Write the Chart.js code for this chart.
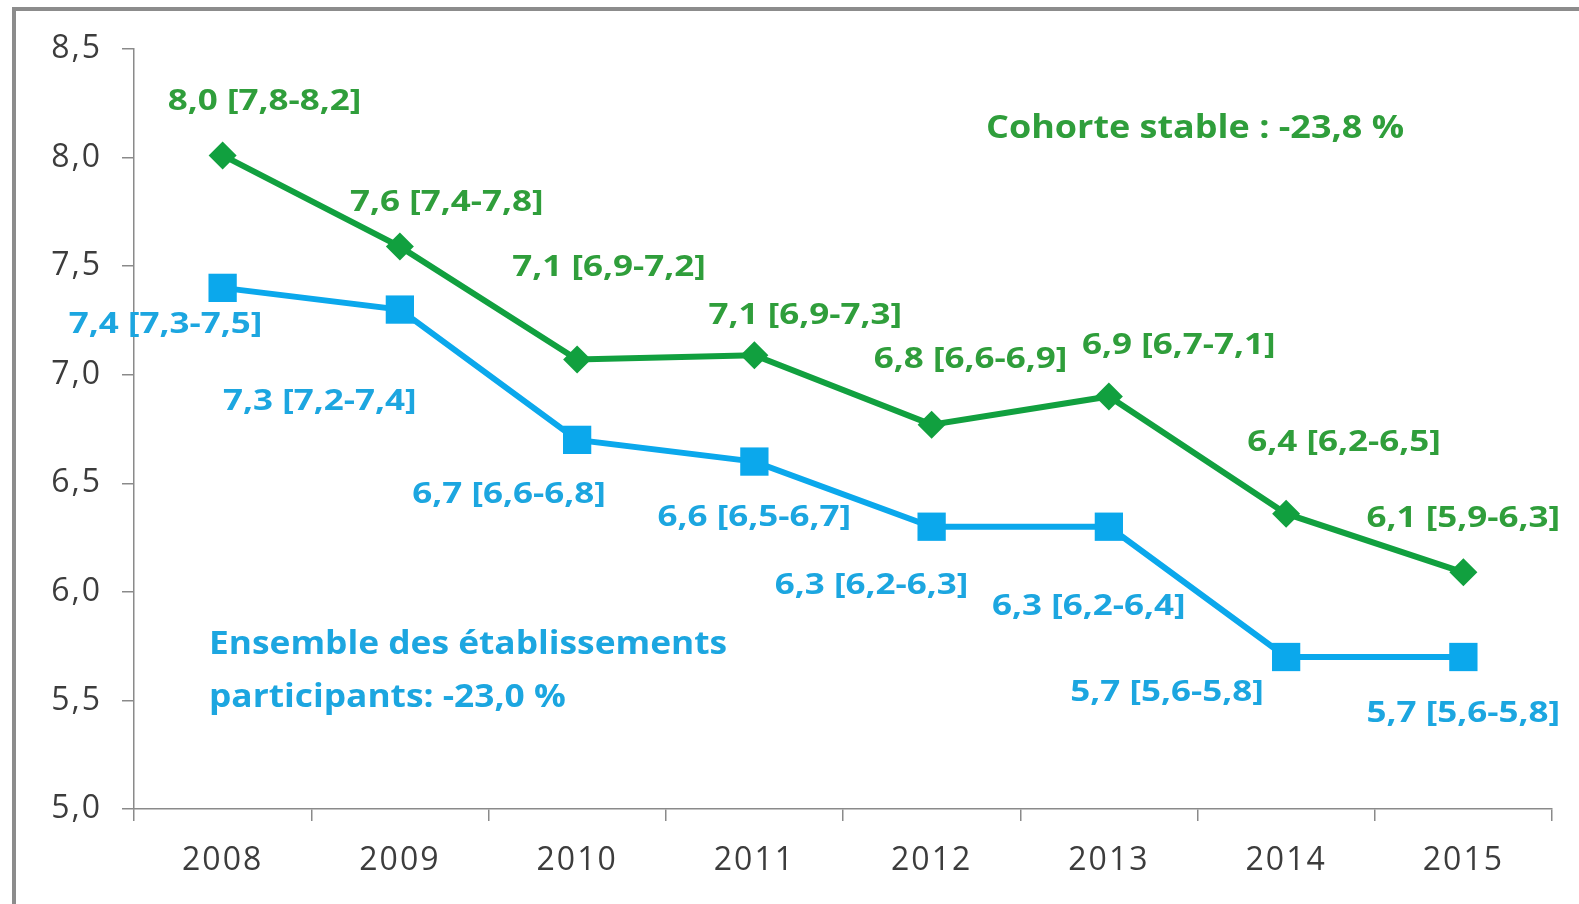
<!DOCTYPE html>
<html>
<head>
<meta charset="utf-8">
<script src="https://cdn.jsdelivr.net/npm/chart.js@4.4.1/dist/chart.umd.min.js"></script>
<style>
  html, body { margin: 0; padding: 0; background: #fff; overflow: hidden; }
  #wrap { position: relative; width: 1579px; height: 904px; }
  #frame { position: absolute; left: 12px; top: 7px; width: 1600px; height: 1000px;
           border-left: 4px solid #8c8c8c; border-top: 4px solid #8c8c8c; box-sizing: border-box; pointer-events: none; }
  canvas { position: absolute; left: 0; top: 0; }
</style>
</head>
<body>
<div id="wrap">
  <canvas id="c" width="1579" height="904"></canvas>
  <div id="frame"></div>
</div>
<script>
// ---- Data ----
const years = ['2008', '2009', '2010', '2011', '2012', '2013', '2014', '2015'];
const cohorteValues = [8.01, 7.59, 7.07, 7.09, 6.77, 6.90, 6.36, 6.09];
const ensembleValues = [7.40, 7.30, 6.70, 6.60, 6.30, 6.30, 5.70, 5.70];
const cohorteLabels = ['8,0 [7,8-8,2]', '7,6 [7,4-7,8]', '7,1 [6,9-7,2]', '7,1 [6,9-7,3]',
                       '6,8 [6,6-6,9]', '6,9 [6,7-7,1]', '6,4 [6,2-6,5]', '6,1 [5,9-6,3]'];
const ensembleLabels = ['7,4 [7,3-7,5]', '7,3 [7,2-7,4]', '6,7 [6,6-6,8]', '6,6 [6,5-6,7]',
                        '6,3 [6,2-6,3]', '6,3 [6,2-6,4]', '5,7 [5,6-5,8]', '5,7 [5,6-5,8]'];
const cohorteNote = 'Cohorte stable : -23,8 %';
const ensembleNote = ['Ensemble des établissements', 'participants: -23,0 %'];
const yTicks = [5.0, 5.5, 6.0, 6.5, 7.0, 7.5, 8.0, 8.5];

// ---- Styling / label placement (pixel offsets from each point) ----
const FONT = '"Open Sans", Lato, sans-serif';
const GREEN = '#11a03f', GREEN_TXT = '#2f9e3b';
const BLUE = '#0ba8ec', BLUE_TXT = '#1ca6e0';
const cohorteOffsets = [[42,-53],[47,-44],[32,-91],[51,-39],[39,-65],[70,-50],[58,-71],[0,-53]];
const ensembleOffsets = [[-57,37],[-80,92],[-68,55],[0,56],[-60,59],[-20,80],[-119,36],[0,57]];

function stretchedText(ctx, text, x, y, sx) {
  ctx.save();
  ctx.translate(x, y);
  ctx.scale(sx, 1);
  ctx.fillText(text, 0, 0);
  ctx.restore();
}

const spacingPlugin = {
  id: 'spacing',
  beforeDraw(chart) { chart.ctx.letterSpacing = '2px'; }
};

const labelPlugin = {
  id: 'pointLabels',
  afterDatasetsDraw(chart) {
    const ctx = chart.ctx;
    ctx.save();
    ctx.letterSpacing = '0px';
    ctx.font = 'bold 28px ' + FONT;
    ctx.textAlign = 'center';
    ctx.textBaseline = 'middle';
    const sets = [[0, cohorteLabels, cohorteOffsets, GREEN_TXT], [1, ensembleLabels, ensembleOffsets, BLUE_TXT]];
    for (const [di, labels, offs, col] of sets) {
      const meta = chart.getDatasetMeta(di);
      ctx.fillStyle = col;
      meta.data.forEach((pt, i) => {
        stretchedText(ctx, labels[i], pt.x + offs[i][0], pt.y + offs[i][1], 1.25);
      });
    }
    // notes
    ctx.font = 'bold 33px ' + FONT;
    ctx.fillStyle = GREEN_TXT;
    ctx.textAlign = 'center';
    stretchedText(ctx, cohorteNote, 1195, 129, 1.09);
    ctx.fillStyle = BLUE_TXT;
    ctx.textAlign = 'left';
    stretchedText(ctx, ensembleNote[0], 209, 645, 1.07);
    stretchedText(ctx, ensembleNote[1], 209, 698, 1.07);
    ctx.restore();
  }
};

new Chart(document.getElementById('c'), {
  type: 'line',
  data: {
    labels: years,
    datasets: [
      {
        label: 'Cohorte stable',
        data: cohorteValues,
        borderColor: GREEN,
        backgroundColor: GREEN,
        borderWidth: 6,
        pointStyle: 'rectRot',
        pointRadius: 14,
        pointBorderWidth: 0,
        tension: 0
      },
      {
        label: 'Ensemble des établissements participants',
        data: ensembleValues,
        borderColor: BLUE,
        backgroundColor: BLUE,
        borderWidth: 6,
        pointStyle: 'rect',
        pointRadius: 20,
        pointBorderWidth: 0,
        tension: 0
      }
    ]
  },
  options: {
    responsive: false,
    animation: false,
    devicePixelRatio: 1,
    layout: { padding: { left: 0, right: 27, top: 49, bottom: 0 } },
    plugins: { legend: { display: false }, tooltip: { enabled: false } },
    scales: {
      x: {
        offset: true,
        grid: { offset: true, drawOnChartArea: false, drawTicks: true, tickLength: 12, color: '#8a8a8a', lineWidth: 1.5 },
        border: { display: true, color: '#8a8a8a', width: 1.5 },
        ticks: { color: '#3c3c3c', font: { family: FONT, size: 32 }, padding: 21, maxRotation: 0 },
        afterFit(scale) { scale.height = 95; }
      },
      y: {
        min: 5, max: 8.5,
        afterBuildTicks(scale) { scale.ticks = yTicks.map(v => ({ value: v })); },
        grid: { drawOnChartArea: false, drawTicks: true, tickLength: 12, color: '#8a8a8a', lineWidth: 1.5 },
        border: { display: true, color: '#8a8a8a', width: 1.5 },
        ticks: {
          color: '#3c3c3c', font: { family: FONT, size: 32 }, padding: 20,
          callback: v => Number(v).toFixed(1).replace('.', ',')
        },
        afterFit(scale) { scale.width = 134; }
      }
    }
  },
  plugins: [spacingPlugin, labelPlugin]
});
</script>
</body>
</html>
